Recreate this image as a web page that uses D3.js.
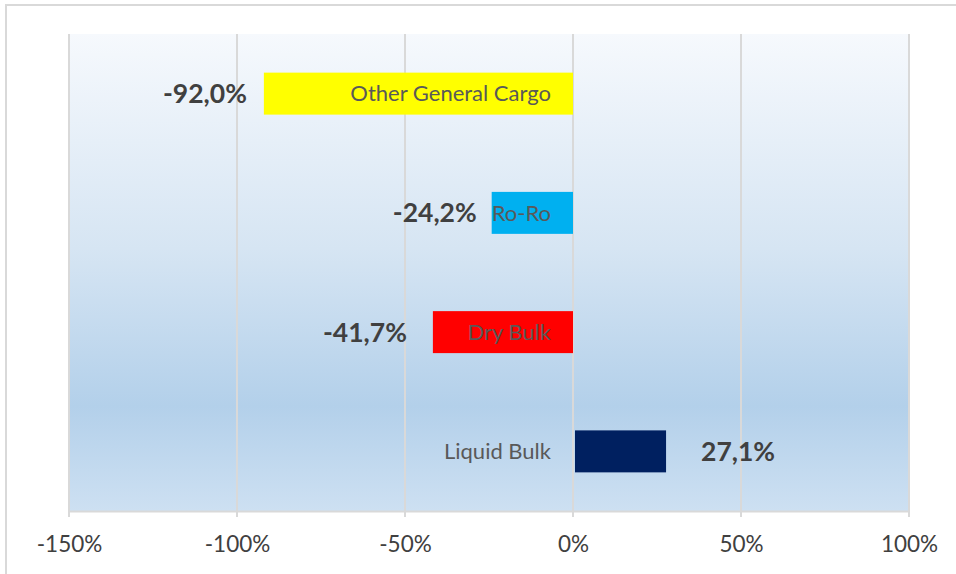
<!DOCTYPE html>
<html>
<head>
<meta charset="utf-8">
<script src="https://cdn.jsdelivr.net/npm/d3@7"></script>
<style>
  body { margin: 0; background: #fff; }
  svg { display: block; font-family: Lato, "Open Sans", sans-serif; }
</style>
</head>
<body>
<svg id="chart" width="956" height="574"></svg>
<script>
// data, top to bottom
const categories = ['Other General Cargo', 'Ro-Ro', 'Dry Bulk', 'Liquid Bulk'];
const changes = [-0.92, -0.242, -0.417, 0.271];
const barColors = ['#ffff00', '#00b0f0', '#ff0000', '#002060'];
const ticks = [-1.5, -1.0, -0.5, 0, 0.5, 1.0];

// value label spacing from bar end (px), hand-placed in the original
const labelGap = [17, 15, 26, 37];

const svg = d3.select('#chart');
const plotL = 69, plotR = 909, plotT = 34, plotB = 511;

// outer chart border
svg.append('rect')
  .attr('x', 6).attr('y', 5).attr('width', 960).attr('height', 580)
  .attr('fill', '#fff').attr('stroke', '#d9d9d9').attr('stroke-width', 2);

const defs = svg.append('defs');
const grad = defs.append('linearGradient').attr('id', 'bg')
  .attr('x1', 0).attr('y1', 0).attr('x2', 0).attr('y2', 1);
grad.append('stop').attr('offset', '0%').attr('stop-color', '#f6f9fd');
grad.append('stop').attr('offset', '45%').attr('stop-color', '#d6e5f3');
grad.append('stop').attr('offset', '78%').attr('stop-color', '#b3d0ea');
grad.append('stop').attr('offset', '100%').attr('stop-color', '#cde0f2');

svg.append('rect')
  .attr('x', plotL).attr('y', plotT).attr('width', plotR - plotL).attr('height', plotB - plotT)
  .attr('fill', 'url(#bg)');

const x = d3.scaleLinear().domain([-1.5, 1.0]).range([plotL, plotR]);
const y = d3.scaleBand().domain(categories).range([plotT, plotB])
  .paddingInner(0.648).paddingOuter(0.324);

// gridlines
svg.append('g').selectAll('line').data(ticks).join('line')
  .attr('x1', d => x(d)).attr('x2', d => x(d))
  .attr('y1', plotT).attr('y2', plotB + 6)
  .attr('stroke', '#d9d9d9').attr('stroke-width', 2);

// x axis
const axis = svg.append('g').attr('transform', `translate(0,${plotB})`)
  .call(d3.axisBottom(x).tickValues(ticks).tickSize(0).tickPadding(25)
    .tickFormat(d => Math.round(d * 100) + '%'));
axis.select('.domain').attr('stroke', '#d9d9d9').attr('stroke-width', 2);
axis.selectAll('text')
  .attr('font-size', 22.5).attr('fill', '#404040')
  .attr('font-family', 'Lato, sans-serif');

// bars
svg.append('g').selectAll('rect').data(categories).join('rect')
  .attr('x', (d, i) => x(Math.min(0, changes[i])) + (changes[i] > 0 ? 2 : 0))
  .attr('width', (d, i) => Math.abs(x(changes[i]) - x(0)))
  .attr('y', d => y(d))
  .attr('height', y.bandwidth())
  .attr('fill', (d, i) => barColors[i]);

// category labels, right-aligned near zero
svg.append('g').selectAll('text').data(categories).join('text')
  .attr('x', x(0) - 22)
  .attr('y', d => y(d) + y.bandwidth() / 2)
  .attr('dy', '0.35em')
  .attr('text-anchor', 'end')
  .attr('font-size', 22)
  .attr('fill', '#595959')
  .text(d => d);

// value labels
const fmt = v => (v * 100).toFixed(1).replace('.', ',') + '%';
svg.append('g').selectAll('text').data(categories).join('text')
  .attr('x', (d, i) => changes[i] < 0 ? x(changes[i]) - labelGap[i] : x(changes[i]) + labelGap[i])
  .attr('y', d => y(d) + y.bandwidth() / 2)
  .attr('dy', '0.36em')
  .attr('text-anchor', (d, i) => changes[i] < 0 ? 'end' : 'start')
  .attr('font-size', 26.5)
  .attr('font-weight', 'bold')
  .attr('fill', '#404040')
  .text((d, i) => fmt(changes[i]));
</script>
</body>
</html>
